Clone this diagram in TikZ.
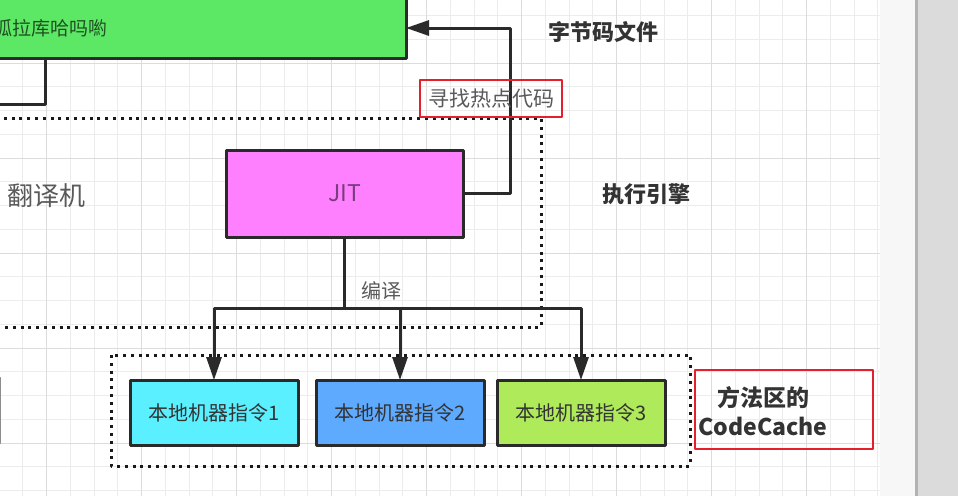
\documentclass[tikz,border=0pt]{standalone}
\usepackage{fontspec}
\setmainfont{Noto Sans CJK SC}
\usepackage{tikz}
\usetikzlibrary{arrows.meta}
\definecolor{interpgreen}{HTML}{5CE864}
\definecolor{interptext}{HTML}{1F4F22}
\definecolor{jitpink}{HTML}{FF80FF}
\definecolor{jittext}{HTML}{7A3C80}
\definecolor{codecyan}{HTML}{5AF0FF}
\definecolor{codeblue}{HTML}{5EAAFF}
\definecolor{codelime}{HTML}{AEEA5A}
\definecolor{wirecol}{HTML}{2A2A2A}
\definecolor{softtext}{HTML}{5A5A5A}
\definecolor{hardtext}{HTML}{333333}
\definecolor{markred}{HTML}{E3202B}
\definecolor{gridminor}{HTML}{ECECEC}
\definecolor{gridmajor}{HTML}{DCDCDC}
\newcommand\pxfont[1]{\fontsize{#1}{#1}\selectfont}

\begin{document}
\begin{tikzpicture}[x=1pt,y=-1pt,line join=round]
\tikzstyle{box} = [draw=wirecol,line width=3pt,outer sep=0pt,inner sep=0pt]
\tikzstyle{wire} = [draw=wirecol,line width=3pt]
\tikzstyle{tip} = [-{Triangle[length=23pt,width=15pt]}]
\tikzstyle{dotframe} = [draw=black!90,line width=3pt,dash pattern=on 3pt off 4.8pt]
\tikzstyle{redframe} = [draw=markred,line width=2.2pt]
\tikzstyle{cmd} = [box,minimum width=168pt,minimum height=65pt,text=hardtext,font=\pxfont{20}]
\useasboundingbox (0,0) rectangle (958,496);
\fill[white] (0,0) rectangle (958,496);
% grid paper
\foreach \k in {0,...,37} \draw[gridminor,line width=1pt] ({23.75*\k-1},0) -- ({23.75*\k-1},496);
\foreach \k in {0,...,20} \draw[gridminor,line width=1pt] (0,{15.5+23.75*\k}) -- (880,{15.5+23.75*\k});
\foreach \k in {2,6,...,34} \draw[gridmajor,line width=1pt] ({23.75*\k-1},0) -- ({23.75*\k-1},496);
\foreach \k in {2,6,...,18} \draw[gridmajor,line width=1pt] (0,{15.5+23.75*\k}) -- (880,{15.5+23.75*\k});
\fill[white!97!black] (880,0) rectangle (915,496);
\fill[black!14] (915,0) rectangle (958,496);
\fill[black!30] (915,0) rectangle (918,496);
% cut-off boxes on the left
\draw[draw=black!45,line width=1.5pt] (-60,378) rectangle (0.6,443);
\node[box,fill=interpgreen,minimum width=500pt,minimum height=100pt,anchor=south east] (interp) at (406,58) {};
\node[anchor=east,inner sep=0pt,text=interptext,font=\pxfont{19}] (interplbl) at (108,28) {叽里呱拉库哈吗喲};
\coordinate (tap) at (45,58);
\coordinate (tapout) at (-10,104);
\draw[wire] (tap) |- (tapout);
% execution engine
\draw[dotframe] (-20,118) rectangle (541,327);
\node[text=softtext,font=\pxfont{26}] (translator) at (46,196) {翻译机};
\node[box,fill=jitpink,minimum width=237pt,minimum height=87pt,text=jittext,font=\pxfont{23}] (jit) at (344.5,193.5) {JIT};
\coordinate (hotturn) at (510,28);
\draw[wire,tip] (jit.east) -| (hotturn) -- (interp.east |- hotturn);
\node[redframe,minimum width=142pt,minimum height=37pt,inner sep=0pt,text=softtext,font=\pxfont{21}] (hotlbl) at (491,98.5) {寻找热点代码};
\node[text=hardtext,font=\pxfont{22}\bfseries] (bytecode) at (603,32) {字节码文件};
\node[text=hardtext,font=\pxfont{22}\bfseries] (engine) at (646,194) {执行引擎};
% code cache
\draw[dotframe] (111,355) rectangle (690,466);
\node[cmd,fill=codecyan] (m1) at (214,412.5) {本地机器指令1};
\node[cmd,fill=codeblue] (m2) at (400,412.5) {本地机器指令2};
\node[cmd,fill=codelime] (m3) at (581,412.5) {本地机器指令3};
\coordinate (split) at (jit.south |- 0,308);
\draw[wire] (jit.south) -- (split);
\draw[wire,tip] (split) -| (m1.north);
\draw[wire,tip] (split) -| (m2.north);
\draw[wire,tip] (split) -| (m3.north);
\node[text=softtext,font=\pxfont{20}] (compile) at (381,291) {编译};
\draw[redframe] (695,370) rectangle (873,449);
\node[align=center,text=hardtext,font=\fontsize{23}{29}\selectfont\bfseries] (cache) at (763,411) {方法区的\\CodeCache};
\end{tikzpicture}
\end{document}
